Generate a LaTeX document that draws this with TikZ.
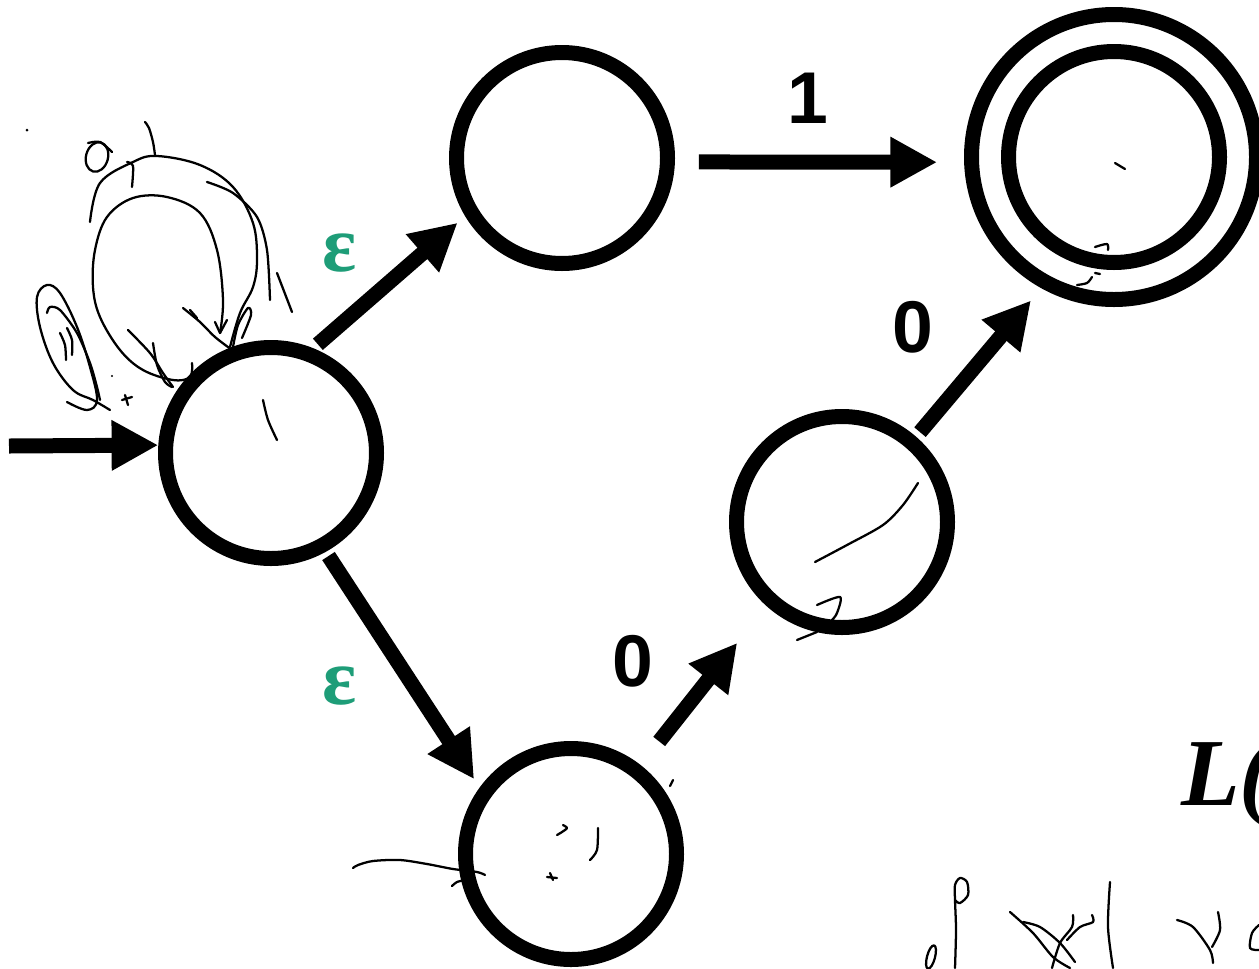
\documentclass[tikz,border=0pt]{standalone}
\usepackage{fontspec}
\newfontfamily\digitfont{Liberation Sans}
\newfontfamily\serifbi{Liberation Serif}
\usetikzlibrary{arrows.meta}
\definecolor{epsgreen}{RGB}{30,157,120}
\begin{document}
\begin{tikzpicture}[x=0.75pt,y=-0.75pt,
  state/.style={circle,draw,line width=11.25pt,minimum size=158.25pt,inner sep=0pt},
  bigring/.style={circle,draw,line width=11.25pt,minimum size=213.75pt,inner sep=0pt},
  edge/.style={line width=11.25pt,-{Triangle[length=35pt,width=35.5pt]}},
  eps/.style={text=epsgreen,font=\serifbi\bfseries\fontsize{60}{64}\selectfont,inner sep=0pt},
  sym/.style={font=\digitfont\bfseries\fontsize{55}{60}\selectfont},
  pen/.style={line width=1.7pt,line cap=round,line join=round}]
\useasboundingbox (0,0) rectangle (1259,968);
\clip (0,0) rectangle (1259,968);

% states
\node[state] (A) at (271,453) {};
\node[state] (B) at (562,158) {};
\node[state] (C) at (571,854) {};
\node[state] (D) at (842,522) {};
\node[bigring] (F) at (1114,157) {};
\node[state] (Fi) at (F.center) {};

% start arrow
\coordinate (start) at (9,446);
\draw[edge] (start) -- (A.176);

% transitions
\draw[edge,shorten <=4.5pt,shorten >=7.5pt] (A.68) -- (B.211);
\draw[edge,shorten <=3.75pt,shorten >=7.5pt] (A.-61) -- (C.144);
\draw[edge,shorten <=22.5pt,shorten >=35.25pt] (C.52) -- (D.228);
\draw[edge,shorten <=4.5pt,shorten >=12pt] (D.49) -- (F.241);
\draw[edge,shorten <=18pt,shorten >=20.25pt] (B.-2) -- (F.182);

% labels
\node[eps] (e1) at (340,253) {ε};
\node[eps] (e2) at (340,686) {ε};
\node[sym] (l1) at (808,98) {1};
\node[sym] (l2) at (913,327) {0};
\node[sym] (l3) at (633,661) {0};
\node[anchor=base west,font=\serifbi\bfseries\itshape\fontsize{72}{80}\selectfont,inner sep=0pt] (lang) at (1181,805) {L(};

% pen strokes around the start state
\draw[pen] plot[smooth,tension=0.6] coordinates {(90,222) (100,183) (133,162) (157,156) (200,165) (233,187) (253,223) (257,260) (253,287) (240,313) (230,347)};
\draw[pen] plot[smooth,tension=0.6] coordinates {(220,333) (223,300) (217,250) (200,213) (167,197) (133,198) (107,217) (95,250) (93,287) (100,317) (120,350) (143,370) (173,380) (190,377) (192,363)};
\draw[pen] (215,322) -- (220,333) -- (227,320);
\draw[pen] plot[smooth] coordinates {(207,182) (233,193) (257,217) (267,250) (270,300)};
\draw[pen] (277,273) -- (292,312);
\draw[pen] plot[smooth] coordinates {(183,308) (200,322) (215,337) (232,350)};
\draw[pen] (190,310) -- (197,318);
\draw[pen] plot[smooth] coordinates {(233,347) (238,325) (248,308) (251,315) (242,338)};
\draw[pen,rotate around={-15:(97,157)}] (97,157) ellipse [x radius=11,y radius=15];
\draw[pen] plot[smooth] coordinates {(88,143) (100,142) (112,152)};
\draw[pen] plot[smooth] coordinates {(145,122) (149,128) (153,142) (155,155)};
\draw[pen] plot[smooth] coordinates {(127,162) (133,166) (132,187)};
\draw[pen] plot[smooth,tension=0.6] coordinates {(67,402) (87,410) (97,400) (90,367) (77,327) (60,293) (47,285) (37,297) (40,327) (53,363) (73,390) (93,400) (110,410)};
\draw[pen] plot[smooth] coordinates {(47,313) (50,307) (60,310) (77,333) (90,363) (97,387) (100,400)};
\draw[pen] plot[smooth] coordinates {(60,333) (65,345) (66,360)};
\draw[pen] plot[smooth] coordinates {(67,328) (72,340) (72,355)};
\draw[pen] plot[smooth] coordinates {(128,330) (150,353) (163,373) (173,387)};
\draw[pen] plot[smooth] coordinates {(153,343) (157,365) (165,382) (172,387)};
\draw[pen] (122,400) -- (132,397);
\draw[pen] (125,395) -- (128,405);
\fill (27,130) circle (1.5);
\fill (112,376) circle (1.2);
\draw[pen] plot[smooth] coordinates {(263,400) (268,420) (277,440)};

% pen strokes around the lower state
\draw[pen] plot[smooth] coordinates {(353,868) (358,865) (373,861) (400,860) (427,864) (453,869) (477,872) (485,875)};
\draw[pen] plot[smooth] coordinates {(452,886) (457,882) (465,880)};
\draw[pen] plot[smooth] coordinates {(557,835) (562,832) (567,828) (563,825)};
\draw[pen] plot[smooth] coordinates {(598,828) (597,850) (590,860)};
\draw[pen] (547,877) -- (557,878);
\draw[pen] (550,873) -- (553,880);
\draw[pen] (673,780) -- (670,786);

% pen strokes in the middle state
\draw[pen] plot[smooth] coordinates {(815,562) (847,545) (883,525) (903,505) (918,483)};
\draw[pen] plot[smooth] coordinates {(817,605) (840,597) (837,613) (832,620)};
\draw[pen] (797,640) -- (817,632);

% pen strokes in the final state
\draw[pen] (1115,163) -- (1125,169);
\draw[pen] plot[smooth] coordinates {(1095,247) (1107,244) (1108,250)};
\draw[pen] plot[smooth] coordinates {(1077,285) (1087,283) (1092,277)};
\draw[pen] (1095,273) -- (1100,274);

% handwriting at the bottom
\draw[pen,rotate around={-15:(931,957)}] (931,957) ellipse [x radius=4,y radius=12];
\draw[pen] plot[smooth] coordinates {(955,968) (956,930) (955,900) (955,885) (960,878) (967,882) (968,895) (960,903) (955,900)};
\draw[pen] plot[smooth] coordinates {(1010,912) (1033,933) (1053,957) (1070,968)};
\draw[pen] plot[smooth] coordinates {(1023,922) (1040,927) (1060,943) (1075,962)};
\draw[pen] plot[smooth] coordinates {(1073,915) (1072,927) (1060,943) (1052,968)};
\draw[pen] plot[smooth] coordinates {(1092,915) (1093,922) (1080,927) (1067,940)};
\draw[pen] plot[smooth] coordinates {(1110,882) (1108,927) (1113,968)};
\draw[pen] plot[smooth] coordinates {(1177,920) (1193,927) (1210,950) (1213,963)};
\draw[pen] plot[smooth] coordinates {(1218,912) (1220,930) (1212,947)};
\draw[pen] plot[smooth] coordinates {(1259,925) (1252,933) (1250,948) (1259,950)};
\end{tikzpicture}
\end{document}
